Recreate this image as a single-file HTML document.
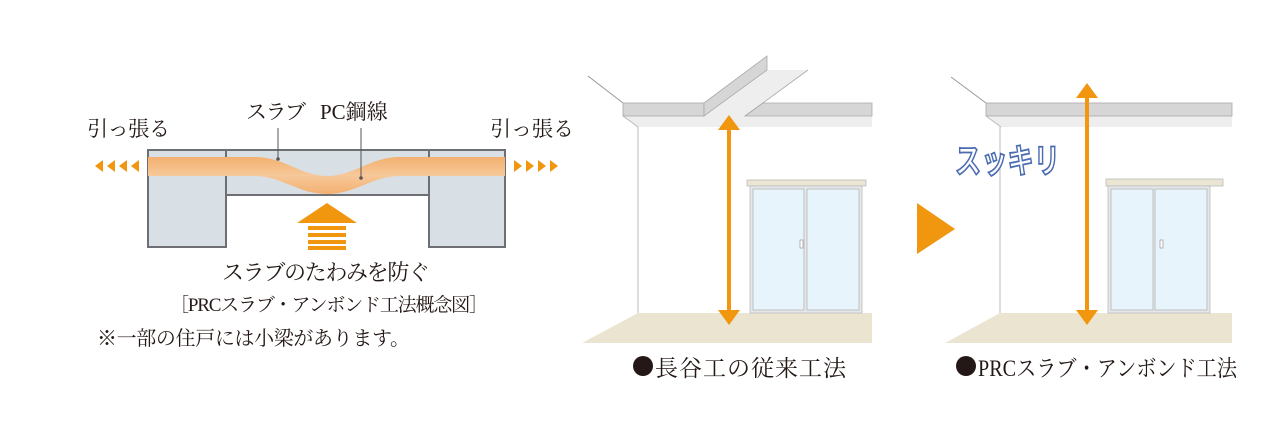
<!DOCTYPE html>
<html><head><meta charset="utf-8"><style>
html,body{margin:0;padding:0;background:#fff;}
svg{display:block;}
.t{font-family:"Liberation Serif","Noto Serif CJK JP",serif;fill:#231815;}
</style></head><body>
<svg width="1280" height="433" viewBox="0 0 1280 433" xmlns="http://www.w3.org/2000/svg">
<defs>
<linearGradient id="band" x1="0" y1="0" x2="0" y2="1">
<stop offset="0" stop-color="#f3b070"/><stop offset="0.5" stop-color="#f7c89a"/><stop offset="1" stop-color="#f3b070"/>
</linearGradient>
</defs>
<rect x="148" y="150" width="78" height="97" fill="#d8dfe5" stroke="#6d6f72" stroke-width="2"/>
<rect x="429" y="150" width="76" height="97" fill="#d8dfe5" stroke="#6d6f72" stroke-width="2"/>
<rect x="226" y="150" width="203" height="45" fill="#d8dfe5" stroke="#6d6f72" stroke-width="2"/>
<path d="M148 157 H255 C285 157 300 176 327 176 C354 176 370 157 400 157 H505 V176 H400 C372 176 356 194 327 194 C298 194 282 176 255 176 H148 Z" fill="url(#band)"/>
<g fill="#f0960f">
<polygon points="95,166 103,160 103,172"/><polygon points="107,166 115,160 115,172"/><polygon points="119,166 127,160 127,172"/><polygon points="131,166 139,160 139,172"/>
<polygon points="522,166 514,160 514,172"/><polygon points="534,166 526,160 526,172"/><polygon points="546,166 538,160 538,172"/><polygon points="558,166 550,160 550,172"/>
<polygon points="327,203 357,223 297,223"/>
<rect x="308" y="226" width="38" height="4"/><rect x="308" y="233" width="38" height="4"/><rect x="308" y="240" width="38" height="4"/><rect x="308" y="246" width="38" height="4"/>
</g>
<line x1="278" y1="128" x2="278" y2="158" stroke="#555" stroke-width="1"/><circle cx="278" cy="159" r="1.8" fill="#555"/>
<line x1="361" y1="128" x2="361" y2="177" stroke="#555" stroke-width="1"/><circle cx="361" cy="178" r="1.8" fill="#555"/>
<text class="t" x="87" y="136" font-size="21" textLength="83">引っ張る</text>
<text class="t" x="490" y="136" font-size="21" textLength="84">引っ張る</text>
<text class="t" x="246" y="119" font-size="21" textLength="60">スラブ</text>
<text class="t" x="320" y="119" font-size="21">PC鋼線</text>
<text class="t" x="222" y="280" font-size="22" textLength="208">スラブのたわみを防ぐ</text>
<text class="t" x="170" y="311" font-size="19" textLength="318">［PRCスラブ・アンボンド工法概念図］</text>
<text class="t" x="97" y="345" font-size="20" textLength="313">※一部の住戸には小梁があります。</text>

<line x1="588" y1="76" x2="623" y2="103" stroke="#999" stroke-width="1"/>
<polygon points="623,116 872,116 872,127 638,127" fill="#eeeeee"/>
<line x1="623" y1="116" x2="638" y2="127" stroke="#bbb"/>
<polygon points="767,70 808,70 745,116 704,116" fill="#eeeeee"/>
<rect x="623" y="103" width="81" height="13" fill="#d6d6d6" stroke="#aaa" stroke-width="0.8"/>
<polygon points="745,116 763,103 872,103 872,116" fill="#d6d6d6" stroke="#aaa" stroke-width="0.8"/>
<line x1="808" y1="70" x2="745" y2="116" stroke="#aaa" stroke-width="0.8"/>
<polygon points="704,116 704,103 767,56 767,70" fill="#d6d6d6" stroke="#aaa" stroke-width="0.8"/>
<line x1="638" y1="127" x2="638" y2="313" stroke="#bbb" stroke-width="1"/>
<polygon points="638,313 872,313 872,343 582,343" fill="#ebe4d0"/>
<rect x="747" y="180" width="119" height="6" fill="#ebe6d3" stroke="#bbb" stroke-width="0.8"/>
<rect x="750" y="186" width="112" height="127" fill="#e4e8ea" stroke="#bbb" stroke-width="0.8"/>
<rect x="753" y="189" width="51" height="121" fill="#e8f4fb" stroke="#b5b5b5" stroke-width="0.8"/>
<rect x="807" y="189" width="52" height="121" fill="#e8f4fb" stroke="#b5b5b5" stroke-width="0.8"/>
<rect x="800" y="240" width="3" height="8" fill="#fff" stroke="#999" stroke-width="0.7"/>
<rect x="727" y="128" width="4" height="185" fill="#f0960f"/>
<polygon points="729,115 740,130 718,130" fill="#f0960f"/>
<polygon points="729,325 740,310 718,310" fill="#f0960f"/>
<circle cx="643" cy="366" r="10" fill="#231815"/>
<text class="t" x="655" y="376" font-size="23" textLength="191">長谷工の従来工法</text>

<polygon points="917,203 955,229 917,254" fill="#f0960f"/>

<line x1="951" y1="77" x2="986" y2="103" stroke="#999" stroke-width="1"/>
<polygon points="986,116 1232,116 1232,127 1001,127" fill="#eeeeee"/>
<line x1="986" y1="116" x2="1001" y2="127" stroke="#bbb"/>
<rect x="986" y="103" width="246" height="13" fill="#d6d6d6" stroke="#aaa" stroke-width="0.8"/>
<line x1="1000" y1="127" x2="1000" y2="313" stroke="#bbb" stroke-width="1"/>
<polygon points="1000,313 1232,313 1232,343 945,343" fill="#ebe4d0"/>
<rect x="1106" y="179" width="117" height="7" fill="#ebe6d3" stroke="#bbb" stroke-width="0.8"/>
<rect x="1108" y="186" width="102" height="127" fill="#e4e8ea" stroke="#bbb" stroke-width="0.8"/>
<rect x="1111" y="189" width="42" height="121" fill="#e8f4fb" stroke="#b5b5b5" stroke-width="0.8"/>
<rect x="1155" y="189" width="52" height="121" fill="#e8f4fb" stroke="#b5b5b5" stroke-width="0.8"/>
<rect x="1160" y="240" width="3" height="8" fill="#fff" stroke="#999" stroke-width="0.7"/>
<rect x="1085" y="96" width="4" height="217" fill="#f0960f"/>
<polygon points="1087,83 1098,98 1076,98" fill="#f0960f"/>
<polygon points="1087,325 1098,310 1076,310" fill="#f0960f"/>
<text x="955" y="173" font-size="34" font-weight="bold" font-family="'Liberation Sans','Noto Sans CJK JP',sans-serif" fill="#fff" stroke="#4a6cb0" stroke-width="1.8" textLength="105" lengthAdjust="spacingAndGlyphs">スッキリ</text>
<circle cx="966" cy="366" r="10" fill="#231815"/>
<text class="t" x="978" y="376" font-size="23" textLength="259" lengthAdjust="spacingAndGlyphs">PRCスラブ・アンボンド工法</text>
</svg>
</body></html>
